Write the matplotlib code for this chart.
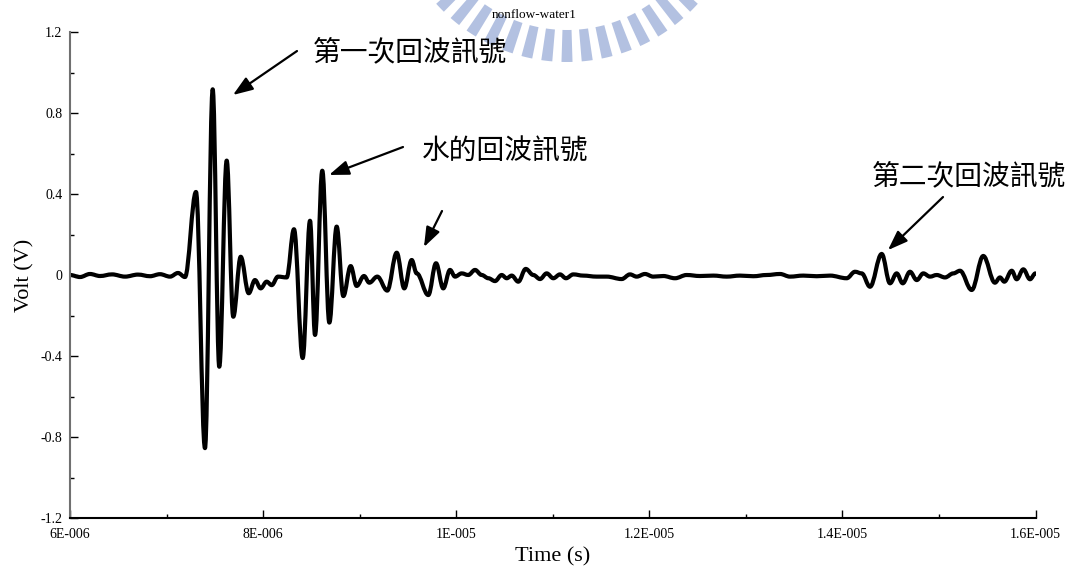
import matplotlib
matplotlib.use("Agg")
import matplotlib.pyplot as plt
from matplotlib.path import Path
from matplotlib.patches import PathPatch, Wedge

plt.rcParams["font.family"] = ["Liberation Serif", "DejaVu Serif"]

# Received ultrasonic waveform: time in microseconds, amplitude in volts
time_us = [
    6.000, 6.104, 6.207, 6.311, 6.435, 6.570, 6.704, 6.829, 6.932, 7.036,
    7.119, 7.191, 7.305, 7.398, 7.478, 7.546, 7.623, 7.691, 7.768, 7.851,
    7.916, 7.975, 8.037, 8.089, 8.154, 8.244, 8.320, 8.410, 8.486, 8.538,
    8.613, 8.686, 8.762, 8.831, 8.907, 8.969, 9.045, 9.100, 9.183, 9.286,
    9.384, 9.462, 9.539, 9.591, 9.711, 9.791, 9.866, 9.936, 9.988, 10.057,
    10.125, 10.195, 10.264, 10.333, 10.402, 10.471, 10.523, 10.575, 10.643, 10.720,
    10.799, 10.868, 10.937, 11.006, 11.075, 11.137, 11.213, 11.316, 11.455, 11.559,
    11.714, 11.800, 11.869, 11.955, 12.041, 12.145, 12.266, 12.387, 12.525, 12.663,
    12.802, 12.939, 13.077, 13.216, 13.354, 13.457, 13.595, 13.734, 13.872, 14.044,
    14.131, 14.200, 14.286, 14.407, 14.493, 14.562, 14.625, 14.700, 14.770, 14.838,
    14.907, 14.977, 15.063, 15.149, 15.218, 15.339, 15.459, 15.580, 15.632, 15.677,
    15.754, 15.805, 15.874, 15.943, 16.000,
]
volt = [
    0.000, -0.010, 0.005, -0.005, 0.003, -0.008, 0.002, -0.006, 0.004, -0.008,
    0.010, -0.010, 0.410, -0.855, 0.917, -0.453, 0.565, -0.206, 0.090, -0.090,
    -0.025, -0.066, -0.033, -0.050, -0.008, -0.012, 0.226, -0.410, 0.268, -0.296,
    0.515, -0.235, 0.239, -0.104, 0.044, -0.054, -0.005, -0.038, -0.008, -0.077,
    0.110, -0.066, 0.074, 0.008, -0.099, 0.058, -0.066, 0.025, -0.008, 0.008,
    0.000, 0.025, 0.000, -0.016, -0.030, 0.000, -0.016, -0.003, -0.033, 0.030,
    0.000, -0.020, 0.008, -0.016, 0.003, -0.016, 0.003, -0.003, -0.008, -0.008,
    -0.020, 0.003, -0.008, 0.005, -0.008, -0.005, -0.016, 0.000, -0.005, -0.003,
    -0.008, -0.003, -0.006, 0.000, 0.005, -0.008, -0.003, -0.006, -0.003, -0.016,
    0.016, 0.008, -0.058, 0.104, -0.041, 0.008, -0.041, 0.016, -0.025, 0.008,
    -0.008, 0.000, -0.012, 0.008, 0.021, -0.074, 0.094, -0.038, -0.012, -0.033,
    0.021, -0.021, 0.028, -0.021, 0.008,
]

x_ticks = [6, 8, 10, 12, 14, 16]
x_tick_labels = ["6E-006", "8E-006", "1E-005", "1.2E-005", "1.4E-005", "1.6E-005"]
x_minor = [7, 9, 11, 13, 15]
y_ticks = [-1.2, -0.8, -0.4, 0, 0.4, 0.8, 1.2]
y_tick_labels = ["-1.2", "-0.8", "-0.4", "0", "0.4", "0.8", "1.2"]
y_minor = [-1.0, -0.6, -0.2, 0.2, 0.6, 1.0]

W, H = 1078, 569
fig = plt.figure(figsize=(W / 100, H / 100), dpi=100)

# light-blue emblem behind the chart (pixel coordinates, y downward)
bg = fig.add_axes([0, 0, 1, 1], zorder=0)
bg.set_xlim(0, W)
bg.set_ylim(H, 0)
bg.axis("off")
emblem_blue = "#b3c1e1"
cx, cy = 567, -114
for k in range(-8, 9):
    ang = 90 + 6.6 * k
    bg.add_patch(Wedge((cx, cy), 176, ang - 1.8, ang + 1.8, width=32,
                       facecolor=emblem_blue, edgecolor="none"))

ax = fig.add_axes([70 / W, 1 - 518 / H, 965.5 / W, 486 / H], zorder=1)
ax.patch.set_alpha(0)


def smooth_path(xs, ys, k=0.37):
    verts = [(xs[0], ys[0])]
    codes = [Path.MOVETO]
    for x0, y0, x1, y1 in zip(xs[:-1], ys[:-1], xs[1:], ys[1:]):
        dx = x1 - x0
        verts += [(x0 + k * dx, y0), (x1 - k * dx, y1), (x1, y1)]
        codes += [Path.CURVE4] * 3
    return Path(verts, codes)


ax.add_patch(PathPatch(smooth_path(time_us, volt), fill=False, edgecolor="black",
                       lw=3.0, joinstyle="round", capstyle="round"))

ax.set_xlim(6, 16)
ax.set_ylim(-1.2, 1.2)
ax.set_xticks(x_ticks)
ax.set_xticklabels(x_tick_labels)
ax.set_xticks(x_minor, minor=True)
ax.set_yticks(y_ticks)
ax.set_yticklabels(y_tick_labels)
ax.set_yticks(y_minor, minor=True)
ax.tick_params(which="major", direction="in", length=6, width=1.0, labelsize=10,
               color="black")
ax.tick_params(which="minor", direction="in", length=3, width=1.0)
ax.tick_params(axis="x", which="major", pad=7)
ax.tick_params(axis="y", which="major", pad=5.5)
for s in ("top", "right"):
    ax.spines[s].set_visible(False)
ax.spines["bottom"].set_linewidth(1.5)
ax.spines["left"].set_linewidth(1.5)
ax.spines["left"].set_color("#707070")

ax.set_xlabel("Time (s)", fontsize=16, labelpad=5)
ax.set_ylabel("Volt (V)", fontsize=16, labelpad=4)
fig.text(534 / W, 1 - 15 / H, "nonflow-water1", fontsize=9.5, ha="center",
         va="center")

cjk = ["Noto Sans CJK TC", "DejaVu Sans"]
arrow_style = dict(arrowstyle="-|>,head_length=0.6,head_width=0.22",
                   color="black", lw=1.6, mutation_scale=20,
                   shrinkA=0, shrinkB=0)

ax.annotate("", xy=(7.688, 0.889), xytext=(8.351, 1.106), arrowprops=arrow_style)
ax.text(8.517, 1.101, "第一次回波訊號", fontsize=20, family=cjk,
        ha="left", va="center")

ax.annotate("", xy=(8.683, 0.494), xytext=(9.449, 0.632), arrowprops=arrow_style)
ax.text(9.646, 0.607, "水的回波訊號", fontsize=20, family=cjk,
        ha="left", va="center")

ax.annotate("", xy=(9.666, 0.138), xytext=(9.853, 0.316), arrowprops=arrow_style)

ax.annotate("", xy=(14.472, 0.123), xytext=(15.042, 0.385), arrowprops=arrow_style)
ax.text(14.307, 0.489, "第二次回波訊號", fontsize=20, family=cjk,
        ha="left", va="center", clip_on=False)

fig.savefig("out.png", dpi=100)
